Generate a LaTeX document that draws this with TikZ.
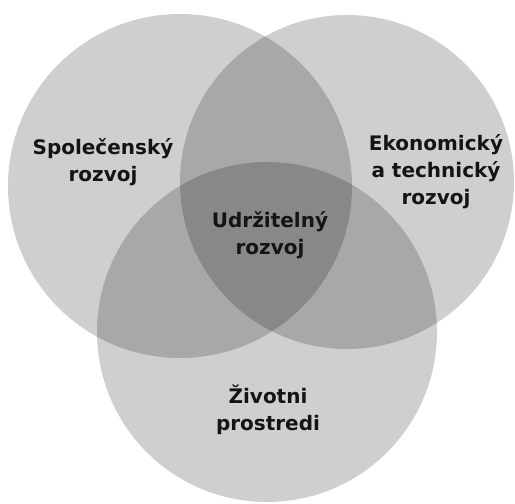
\documentclass[tikz,border=0pt]{standalone}
\usepackage{fontspec}
\setsansfont{DejaVu Sans}
\tikzset{
  sphere/.style = {fill=black, fill opacity=0.19, draw=none},
  lbl/.style = {align=center, inner sep=0pt, text centered,
    font=\sffamily\bfseries\fontsize{20}{27}\selectfont, text=black!92}
}

\begin{document}
\begin{tikzpicture}[x=1pt, y=-1pt]
\fill[white] (0,0) rectangle (515,504);
\useasboundingbox (0,0) rectangle (515,504);
\fill[sphere] (180,186) circle [radius=172pt];
\fill[sphere] (347,182) circle [radius=167pt];
\fill[sphere] (267,332) circle [radius=170pt];
\node [lbl] (spol) at (103,162) {Společenský\\rozvoj};
\node [lbl] (eko) at (436,172) {Ekonomický\\a technický\\rozvoj};
\node [lbl] (udr) at (270,235) {Udržitelný\\rozvoj};
\node [lbl] (ziv) at (268,410) {Životni\\prostredi};
\end{tikzpicture}
\end{document}
